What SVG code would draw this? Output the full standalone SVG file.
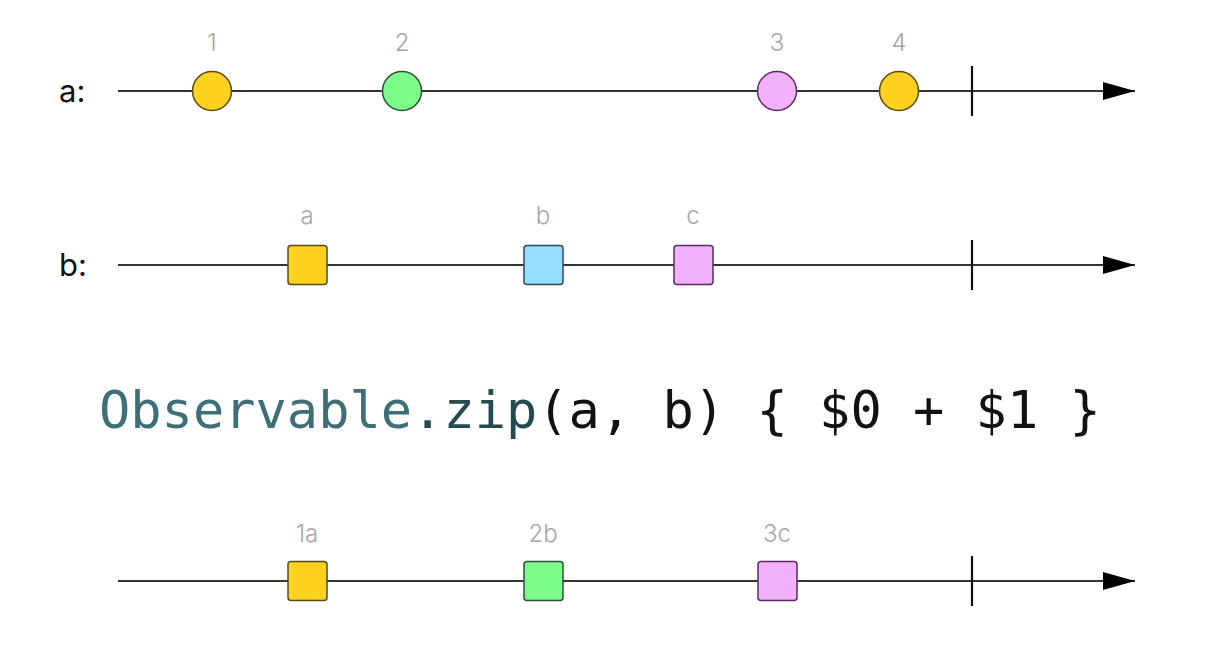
<svg xmlns="http://www.w3.org/2000/svg" width="1212" height="656" viewBox="0 0 1212 656">
<defs>
<marker id="arr" markerWidth="32" markerHeight="20" refX="32" refY="10" orient="auto" markerUnits="userSpaceOnUse">
<path d="M0,1 L32,10 L0,19 Z" fill="#000"/>
</marker>
<style>
.axis{stroke:#333;stroke-width:2.2;fill:none}
.tick{stroke:#111;stroke-width:2.2}
.lbl{font-family:Inter,"Liberation Sans",sans-serif;font-size:24px;font-weight:300;fill:#a6a6a6;text-anchor:middle}
.row{font-family:Inter,"Liberation Sans",sans-serif;font-size:31px;fill:#111}
.m{stroke:#333;stroke-width:1.5}
.y{fill:#ffd21f;stroke:#5a4a10}
.g{fill:#7dfc8c;stroke:#2d4f33}
.p{fill:#f2b1fd;stroke:#5a2a66}
.bl{fill:#96defe;stroke:#2b4a5a}
.code{font-family:"DejaVu Sans Mono",monospace;font-size:52px;fill:#111}
</style>
</defs>
<rect width="1212" height="656" fill="#fff"/>
<g id="connectors">
<line class="axis" x1="118" y1="91" x2="1135" y2="91" marker-end="url(#arr)"/>
<line class="tick" x1="972" y1="66" x2="972" y2="116"/>
<line class="axis" x1="118" y1="265" x2="1135" y2="265" marker-end="url(#arr)"/>
<line class="tick" x1="972" y1="240" x2="972" y2="290"/>
<line class="axis" x1="118" y1="581" x2="1135" y2="581" marker-end="url(#arr)"/>
<line class="tick" x1="972" y1="556" x2="972" y2="606"/>
</g>
<g id="label-a"><text class="row" x="59" y="102">a:</text></g>
<g id="label-b"><text class="row" x="59" y="276">b:</text></g>
<g id="a1"><circle class="m y" cx="212" cy="91" r="19.5"/><text class="lbl" x="212" y="51">1</text></g>
<g id="a2"><circle class="m g" cx="402" cy="91" r="19.5"/><text class="lbl" x="402" y="51">2</text></g>
<g id="a3"><circle class="m p" cx="777" cy="91" r="19.5"/><text class="lbl" x="777" y="51">3</text></g>
<g id="a4"><circle class="m y" cx="899" cy="91" r="19.5"/><text class="lbl" x="899" y="51">4</text></g>
<g id="ba"><rect class="m y" x="288" y="245.5" width="39" height="39" rx="3"/><text class="lbl" x="307" y="224">a</text></g>
<g id="bb"><rect class="m bl" x="524" y="245.5" width="39" height="39" rx="3"/><text class="lbl" x="543" y="224">b</text></g>
<g id="bc"><rect class="m p" x="674" y="245.5" width="39" height="39" rx="3"/><text class="lbl" x="693" y="224">c</text></g>
<g id="code"><text class="code" x="99" y="428"><tspan fill="#3e6f78">Observable</tspan><tspan fill="#254a52">.zip</tspan>(a, b) { $0 + $1 }</text></g>
<g id="r1"><rect class="m y" x="288" y="561.5" width="39" height="39" rx="3"/><text class="lbl" x="307" y="542">1a</text></g>
<g id="r2"><rect class="m g" x="524" y="561.5" width="39" height="39" rx="3"/><text class="lbl" x="543" y="542">2b</text></g>
<g id="r3"><rect class="m p" x="758" y="561.5" width="39" height="39" rx="3"/><text class="lbl" x="777" y="542">3c</text></g>
</svg>
